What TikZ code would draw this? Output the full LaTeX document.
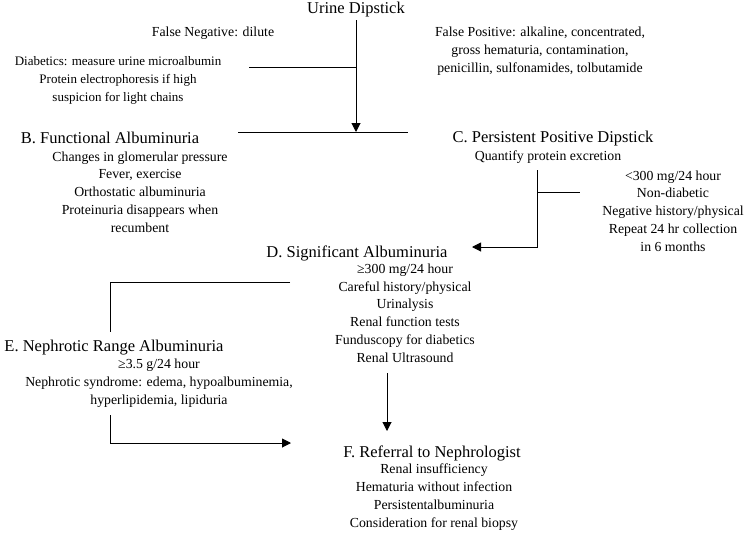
\documentclass[tikz,border=0pt]{standalone}
\usepackage{fontspec}
\setmainfont{Liberation Serif}
\usetikzlibrary{arrows.meta}
\begin{document}
\begin{tikzpicture}[x=1pt,y=-1pt,
  txt/.style={inner sep=0pt,align=center,font=\fontsize{13.8}{17.8}\selectfont},
  head/.style={inner sep=0pt,align=center,font=\fontsize{16.5}{18}\selectfont},
  ln/.style={line width=1pt},
  arr/.style={line width=1pt,-{Triangle[length=9pt,width=9pt]}}]
\useasboundingbox (0,0) rectangle (750,533);
% texts
\node[head] (ud) at (356,10) {Urine Dipstick};
\node[txt] (fn) at (213,33) {False Negative: dilute};
\node[txt,font=\fontsize{13}{18}\selectfont] (diab) at (118,80) {Diabetics: measure urine microalbumin\\Protein electrophoresis if high\\suspicion for light chains};
\node[txt] (fp) at (540,51) {False Positive: alkaline, concentrated,\\gross hematuria, contamination,\\penicillin, sulfonamides, tolbutamide};
\node[head] (B) at (110,138) {B. Functional Albuminuria};
\node[txt] (Bt) at (140,192) {Changes in glomerular pressure\\Fever, exercise\\Orthostatic albuminuria\\Proteinuria disappears when\\recumbent};
\node[head] (C) at (553,139) {C. Persistent Positive Dipstick};
\node[txt] (Ct) at (548,157) {Quantify protein excretion};
\node[txt] (Cr) at (673,211) {<300 mg/24 hour\\Non-diabetic\\Negative history/physical\\Repeat 24 hr collection\\in 6 months};
\node[head] (D) at (357,253) {D. Significant Albuminuria};
\node[txt] (Dt) at (405,313) {≥300 mg/24 hour\\Careful history/physical\\Urinalysis\\Renal function tests\\Funduscopy for diabetics\\Renal Ultrasound};
\node[head] (E) at (114,348) {E. Nephrotic Range Albuminuria};
\node[txt] (Et) at (159,383) {≥3.5 g/24 hour\\Nephrotic syndrome: edema, hypoalbuminemia,\\hyperlipidemia, lipiduria};
\node[head] (F) at (432,453) {F. Referral to Nephrologist};
\node[txt] (Ft) at (434,497) {Renal insufficiency\\Hematuria without infection\\Persistentalbuminuria\\Consideration for renal biopsy};
% coordinates
\coordinate (udtop) at (356,20);
\coordinate (udj) at (356,132);
\coordinate (barL) at (238,132);
\coordinate (barR) at (408,132);
\coordinate (udb) at (356,67);
\coordinate (udbL) at (249,67);
\coordinate (ctop) at (537,170);
\coordinate (cbr) at (537,192);
\coordinate (cbrR) at (580,192);
\coordinate (cbot) at (537,247);
\coordinate (dtip) at (472,247);
\coordinate (deR) at (290,282);
\coordinate (deL) at (110,282);
\coordinate (deB) at (110,332);
\coordinate (dfT) at (387,373);
\coordinate (dfB) at (387,431);
\coordinate (efT) at (110,415);
\coordinate (efC) at (110,443);
\coordinate (efR) at (291,443);
% connectors
\draw[arr] (udtop) -- (udj);
\draw[ln] (barL) -- (barR);
\draw[ln] (udb) -- (udbL);
\draw[arr] (ctop) -- (cbot) -- (dtip);
\draw[ln] (cbr) -- (cbrR);
\draw[ln] (deR) -- (deL) -- (deB);
\draw[arr] (dfT) -- (dfB);
\draw[arr] (efT) -- (efC) -- (efR);
\end{tikzpicture}
\end{document}
